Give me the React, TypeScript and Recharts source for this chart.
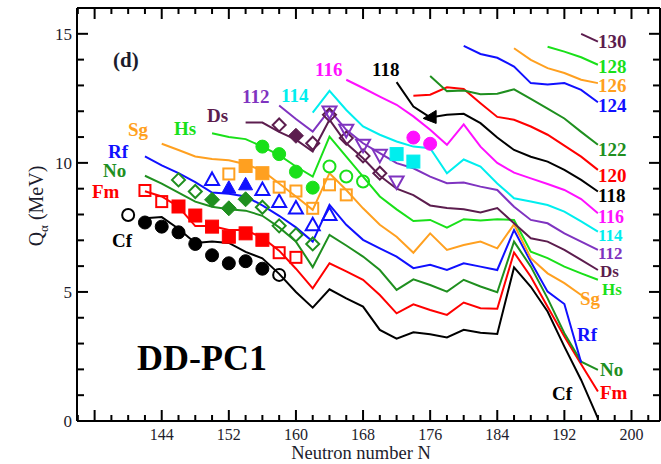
import React from 'react';
import { ComposedChart, Line, Scatter, XAxis, YAxis } from 'recharts';

const SERIF = '"Liberation Serif", "Times New Roman", serif';

// neutron numbers used by the DD-PC1 curves
const N_VALUES = [
  140, 142, 144, 146, 148, 150, 152, 154, 156, 158, 160, 162, 164, 166, 168,
  170, 172, 174, 176, 178, 180, 182, 184, 186, 188, 190, 192, 194, 196,
];

// Q_alpha (MeV) along each isotopic chain, starting at the given N
const CF_FROM = 142;
const CF = [7.85, 7.9, 7.45, 6.9, 6.95, 6.9, 6.55, 6.3, 5.7, 5.0, 4.39, 5.1, 4.75, 4.43, 3.53, 3.19, 3.44, 3.36, 3.24, 3.53, 3.42, 3.37, 5.95, 5.2, 4.24, 2.88, 1.59, 0.1];
const FM_FROM = 142;
const FM = [8.9, 8.7, 8.3, 7.55, 7.55, 7.4, 7.4, 7.1, 6.6, 5.9, 5.14, 6.11, 5.8, 5.47, 4.88, 4.17, 4.52, 4.3, 4.11, 4.59, 4.37, 4.35, 6.53, 5.59, 4.43, 3.27, 2.2, 1.14];
const NO_FROM = 142;
const NO = [9.5, 9.2, 8.85, 8.5, 8.3, 8.2, 8.15, 7.95, 7.5, 6.95, 5.96, 7.21, 6.8, 6.37, 5.85, 5.08, 5.49, 5.27, 5.01, 5.47, 5.21, 4.99, 6.95, 5.98, 4.75, 3.4, 2.3, 1.98];
const RF_FROM = 142;
const RF = [10.25, 9.9, 9.6, 9.25, 8.85, 8.8, 8.7, 8.35, 7.95, 7.5, 6.95, 8.37, 7.6, 7.02, 6.69, 6.37, 5.92, 6.05, 5.85, 6.11, 5.98, 5.85, 7.4, 6.17, 5.01, 4.53, 2.27];
const SG_FROM = 144;
const SG = [10.74, 10.5, 10.25, 10.15, 10.1, 9.95, 9.7, 9.2, 8.7, 8.18, 9.6, 8.95, 8.24, 7.6, 7.14, 6.52, 7.27, 6.63, 6.82, 6.95, 6.69, 7.62, 6.31, 5.72, 5.34, 4.88];
const HS_FROM = 150;
const HS = [11.15, 11.0, 10.92, 10.63, 10.3, 9.86, 9.47, 11.02, 10.24, 9.47, 8.7, 8.2, 7.75, 7.79, 7.49, 7.82, 7.77, 7.82, 7.79, 6.56, 6.31, 5.98, 5.72, 5.47];
const DS_FROM = 154;
const DS = [11.56, 11.56, 11.2, 10.9, 10.44, 11.67, 10.76, 10.18, 9.5, 9.0, 8.75, 8.35, 8.25, 8.2, 8.08, 8.25, 7.66, 7.08, 6.95, 6.63, 6.24, 5.85];
const Z112_FROM = 158;
const Z112 = [12.22, 11.7, 11.21, 12.05, 11.28, 10.76, 10.38, 9.99, 9.79, 9.47, 9.21, 9.24, 9.08, 8.95, 8.3, 7.79, 7.66, 7.27, 6.95, 6.63];
const Z114_FROM = 162;
const Z114 = [11.95, 12.79, 12.05, 11.41, 11.09, 10.83, 10.63, 10.57, 9.6, 10.13, 9.86, 9.2, 8.63, 8.5, 8.37, 8.11, 7.73, 7.34];
const Z116_FROM = 166;
const Z116 = [13.22, 12.9, 12.57, 12.25, 11.8, 11.28, 10.7, 11.49, 10.63, 10.0, 9.62, 9.4, 9.18, 8.95, 8.6, 8.05];
const Z118_FROM = 172;
const Z118 = [13.13, 12.18, 11.76, 11.86, 11.9, 11.54, 10.98, 10.5, 10.24, 10.05, 9.73, 9.34, 8.89];
const Z120_FROM = 174;
const Z120 = [12.6, 12.64, 12.93, 12.86, 12.31, 11.78, 11.67, 11.41, 11.09, 10.67, 10.24, 9.73];
const Z122_FROM = 176;
const Z122 = [13.37, 12.78, 12.8, 12.66, 12.68, 12.85, 12.48, 12.1, 11.72, 11.2, 10.7];
const Z124_FROM = 180;
const Z124 = [14.53, 14.22, 14.07, 13.73, 13.09, 13.04, 13.09, 12.83, 12.35];
const Z126_FROM = 186;
const Z126 = [14.44, 13.99, 13.67, 13.48, 13.22, 13.09];
const Z128_FROM = 190;
const Z128 = [14.5, 14.31, 14.09, 13.8];
const Z130_FROM = 194;
const Z130 = [15.0, 14.7];

// experimental values [N, Q]
const CF_EXP_OPEN = [[140, 7.98], [158, 5.66]];
const CF_EXP = [[142, 7.69], [144, 7.53], [146, 7.31], [148, 6.86], [150, 6.42], [152, 6.11], [154, 6.19], [156, 5.9]];
const FM_EXP_OPEN = [[142, 8.93], [144, 8.5], [158, 6.52], [160, 6.34]];
const FM_EXP = [[146, 8.31], [148, 7.96], [150, 7.53], [152, 7.14], [154, 7.27], [156, 7.02]];
const NO_EXP_OPEN = [[146, 9.34], [148, 8.89], [156, 8.28], [158, 7.56], [160, 7.21], [162, 6.86]];
const NO_EXP = [[150, 8.57], [152, 8.24], [154, 8.59]];
const RF_EXP_OPEN = [[150, 9.34], [156, 8.95], [158, 8.48], [160, 8.23], [162, 7.58], [164, 7.98]];
const RF_EXP = [[152, 9.02], [154, 9.15]];
const SG_EXP_OPEN = [[152, 9.57], [158, 9.06], [160, 8.91], [162, 8.24], [164, 9.15], [166, 8.76]];
const SG_EXP = [[154, 9.88], [156, 9.6]];
const HS_EXP = [[156, 10.63], [158, 10.34], [160, 9.66], [162, 9.04]];
const HS_EXP_OPEN = [[164, 9.86], [166, 9.47], [168, 9.28]];
const DS_EXP_OPEN = [[158, 11.47], [162, 10.76], [164, 11.86], [166, 10.96], [168, 10.27], [170, 9.6]];
const DS_EXP = [[160, 11.05]];
const Z112_EXP_OPEN = [[164, 11.99], [166, 11.28], [168, 10.7], [170, 10.31], [172, 9.28]];
const Z114_EXP = [[172, 10.34], [174, 10.05]];
const Z116_EXP = [[174, 10.98], [176, 10.74]];
const Z118_EXP = [[176, 11.8]];

// axis ticks
const X_TICKS = [134, 136, 138, 140, 142, 144, 146, 148, 150, 152, 154, 156, 158, 160, 162, 164, 166, 168, 170, 172, 174, 176, 178, 180, 182, 184, 186, 188, 190, 192, 194, 196, 198, 200, 202];
const X_MAJOR = [136, 144, 152, 160, 168, 176, 184, 192, 200];
const X_LABELS = [144, 152, 160, 168, 176, 184, 192, 200];
const Y_TICKS = [0, 1, 2, 3, 4, 5, 6, 7, 8, 9, 10, 11, 12, 13, 14, 15, 16];
const Y_LABELS = [0, 5, 10, 15];

const BLACK = '#000000';
const RED = '#ff0000';
const DKGREEN = '#1f8f1f';
const BLUE = '#1010ff';
const ORANGE = '#ffa020';
const GREEN = '#19e019';
const MAROON = '#5c1d4e';
const PURPLE = '#7f33c0';
const CYAN = '#00eeee';
const MAGENTA = '#ff10ff';
const INK = '#1c1c2c';

const toPoints = (from: number, q: number[]) => {
  const i0 = N_VALUES.indexOf(from);
  return q.map((v, i) => ({ n: N_VALUES[i0 + i], q: v }));
};
const pairs = (arr: number[][]) => arr.map(([n, q]) => ({ n, q }));

const LINES = [
  { key: 'cf', from: CF_FROM, q: CF, color: BLACK },
  { key: 'fm', from: FM_FROM, q: FM, color: RED },
  { key: 'no', from: NO_FROM, q: NO, color: DKGREEN },
  { key: 'rf', from: RF_FROM, q: RF, color: BLUE },
  { key: 'sg', from: SG_FROM, q: SG, color: ORANGE },
  { key: 'hs', from: HS_FROM, q: HS, color: GREEN },
  { key: 'ds', from: DS_FROM, q: DS, color: MAROON },
  { key: 'z112', from: Z112_FROM, q: Z112, color: PURPLE },
  { key: 'z114', from: Z114_FROM, q: Z114, color: CYAN },
  { key: 'z116', from: Z116_FROM, q: Z116, color: MAGENTA },
  { key: 'z118', from: Z118_FROM, q: Z118, color: BLACK },
  { key: 'z120', from: Z120_FROM, q: Z120, color: RED },
  { key: 'z122', from: Z122_FROM, q: Z122, color: DKGREEN },
  { key: 'z124', from: Z124_FROM, q: Z124, color: BLUE },
  { key: 'z126', from: Z126_FROM, q: Z126, color: ORANGE },
  { key: 'z128', from: Z128_FROM, q: Z128, color: GREEN },
  { key: 'z130', from: Z130_FROM, q: Z130, color: MAROON },
];

const MARKERS = [
  { key: 'cfo', pts: CF_EXP_OPEN, shape: 'circle', color: BLACK, filled: false },
  { key: 'cff', pts: CF_EXP, shape: 'circle', color: BLACK, filled: true },
  { key: 'fmo', pts: FM_EXP_OPEN, shape: 'square', color: RED, filled: false },
  { key: 'fmf', pts: FM_EXP, shape: 'square', color: RED, filled: true },
  { key: 'noo', pts: NO_EXP_OPEN, shape: 'diamond', color: DKGREEN, filled: false },
  { key: 'nof', pts: NO_EXP, shape: 'diamond', color: DKGREEN, filled: true },
  { key: 'rfo', pts: RF_EXP_OPEN, shape: 'triUp', color: BLUE, filled: false },
  { key: 'rff', pts: RF_EXP, shape: 'triUp', color: BLUE, filled: true },
  { key: 'sgo', pts: SG_EXP_OPEN, shape: 'square', color: ORANGE, filled: false },
  { key: 'sgf', pts: SG_EXP, shape: 'square', color: ORANGE, filled: true },
  { key: 'hsf', pts: HS_EXP, shape: 'circle', color: GREEN, filled: true },
  { key: 'hso', pts: HS_EXP_OPEN, shape: 'circle', color: GREEN, filled: false },
  { key: 'dso', pts: DS_EXP_OPEN, shape: 'diamond', color: MAROON, filled: false },
  { key: 'dsf', pts: DS_EXP, shape: 'diamond', color: MAROON, filled: true },
  { key: 'z112o', pts: Z112_EXP_OPEN, shape: 'triDown', color: PURPLE, filled: false },
  { key: 'z114f', pts: Z114_EXP, shape: 'square', color: CYAN, filled: true },
  { key: 'z116f', pts: Z116_EXP, shape: 'circle', color: MAGENTA, filled: true },
  { key: 'z118f', pts: Z118_EXP, shape: 'triLeft', color: BLACK, filled: true },
];

// element labels (pixel positions, text baseline, font size)
const LABELS = [
  { t: 'Cf', x: 112, y: 247, c: BLACK, s: 19 },
  { t: 'Fm', x: 92, y: 198, c: RED, s: 19 },
  { t: 'No', x: 103, y: 177, c: DKGREEN, s: 19 },
  { t: 'Rf', x: 108, y: 158, c: BLUE, s: 19 },
  { t: 'Sg', x: 128, y: 136, c: ORANGE, s: 19 },
  { t: 'Hs', x: 174, y: 135, c: GREEN, s: 19 },
  { t: 'Ds', x: 207, y: 122, c: MAROON, s: 19 },
  { t: '112', x: 242, y: 103, c: PURPLE, s: 19 },
  { t: '114', x: 281, y: 102, c: CYAN, s: 19 },
  { t: '116', x: 315, y: 76, c: MAGENTA, s: 19 },
  { t: '118', x: 372, y: 76, c: BLACK, s: 19 },
  { t: '130', x: 598, y: 48, c: MAROON, s: 19 },
  { t: '128', x: 598, y: 73, c: GREEN, s: 19 },
  { t: '126', x: 598, y: 92, c: ORANGE, s: 19 },
  { t: '124', x: 598, y: 112, c: BLUE, s: 19 },
  { t: '122', x: 598, y: 156, c: DKGREEN, s: 19 },
  { t: '120', x: 598, y: 182, c: RED, s: 19 },
  { t: '118', x: 598, y: 202, c: BLACK, s: 19 },
  { t: '116', x: 598, y: 223, c: MAGENTA, s: 18 },
  { t: '114', x: 598, y: 241, c: CYAN, s: 17 },
  { t: '112', x: 598, y: 259, c: PURPLE, s: 17 },
  { t: 'Ds', x: 600, y: 277, c: MAROON, s: 17 },
  { t: 'Hs', x: 602, y: 295, c: GREEN, s: 17 },
  { t: 'Sg', x: 580, y: 305, c: ORANGE, s: 19 },
  { t: 'Rf', x: 577, y: 341, c: BLUE, s: 19 },
  { t: 'No', x: 600, y: 376, c: DKGREEN, s: 19 },
  { t: 'Fm', x: 600, y: 399, c: RED, s: 19 },
  { t: 'Cf', x: 552, y: 400, c: BLACK, s: 19 },
];

const makeShape = (kind: string, color: string, filled: boolean) => (p: any) => {
  const { cx, cy } = p;
  const fill = filled ? color : 'none';
  const common = { fill, stroke: color, strokeWidth: filled ? 1 : 2 };
  if (kind === 'circle') return <circle cx={cx} cy={cy} r={filled ? 6.5 : 6} {...common} />;
  if (kind === 'square') {
    const s = filled ? 6.5 : 5.5;
    return <rect x={cx - s} y={cy - s} width={2 * s} height={2 * s} {...common} />;
  }
  if (kind === 'diamond') {
    const s = filled ? 7.5 : 6.5;
    return <polygon points={`${cx},${cy - s} ${cx + s},${cy} ${cx},${cy + s} ${cx - s},${cy}`} {...common} />;
  }
  if (kind === 'triUp')
    return <polygon points={`${cx},${cy - 7.5} ${cx + 7},${cy + 5} ${cx - 7},${cy + 5}`} {...common} />;
  if (kind === 'triDown')
    return <polygon points={`${cx},${cy + 7.5} ${cx + 7},${cy - 5} ${cx - 7},${cy - 5}`} {...common} />;
  return <polygon points={`${cx - 7},${cy + 2} ${cx + 6},${cy - 6} ${cx + 6},${cy + 7}`} {...common} />;
};

const BottomTick = (p: any) => {
  const v = p.payload.value;
  const len = X_MAJOR.includes(v) ? 11 : 6;
  return (
    <g>
      <line x1={p.x} x2={p.x} y1={p.y} y2={p.y - len} stroke="#000" strokeWidth={2} />
      {X_LABELS.includes(v) && (
        <text x={p.x} y={p.y + 19} textAnchor="middle" fontSize={16} fontFamily={SERIF} fill={INK}>
          {v}
        </text>
      )}
    </g>
  );
};

const TopTick = (p: any) => {
  const v = p.payload.value;
  const len = X_MAJOR.includes(v) ? 11 : 6;
  return <line x1={p.x} x2={p.x} y1={p.y} y2={p.y + len} stroke="#000" strokeWidth={2} />;
};

const LeftTick = (p: any) => {
  const v = p.payload.value;
  const len = Y_LABELS.includes(v) ? 11 : 7;
  return (
    <g>
      <line x1={p.x} x2={p.x + len} y1={p.y} y2={p.y} stroke="#000" strokeWidth={2} />
      {Y_LABELS.includes(v) && (
        <text x={p.x - 5} y={p.y + 6} textAnchor="end" fontSize={17} fontFamily={SERIF} fill={INK}>
          {v}
        </text>
      )}
    </g>
  );
};

const RightTick = (p: any) => {
  const v = p.payload.value;
  const len = Y_LABELS.includes(v) ? 11 : 7;
  return <line x1={p.x} x2={p.x - len} y1={p.y} y2={p.y} stroke="#000" strokeWidth={2} />;
};

const AXIS_LINE = { stroke: '#000', strokeWidth: 2 };
const X_DOMAIN = [133.9, 203.4];
const Y_DOMAIN = [0, 16];

export default function App() {
  return (
    <div style={{ position: 'absolute', left: 0, top: 0, width: 661, height: 464, background: '#fff' }}>
      <ComposedChart width={661} height={464} margin={{ top: 7, right: 0, bottom: 42, left: 76 }}>
        <XAxis
          dataKey="n"
          type="number"
          domain={X_DOMAIN}
          allowDataOverflow
          ticks={X_TICKS}
          interval={0}
          height={1}
          tickSize={0}
          tickMargin={0}
          tickLine={false}
          axisLine={AXIS_LINE}
          tick={BottomTick}
        />
        <XAxis
          xAxisId="top"
          orientation="top"
          dataKey="n"
          type="number"
          domain={X_DOMAIN}
          allowDataOverflow
          ticks={X_TICKS}
          interval={0}
          height={1}
          tickSize={0}
          tickMargin={0}
          tickLine={false}
          axisLine={AXIS_LINE}
          tick={TopTick}
        />
        <YAxis
          type="number"
          domain={Y_DOMAIN}
          allowDataOverflow
          ticks={Y_TICKS}
          interval={0}
          width={1}
          tickSize={0}
          tickMargin={0}
          tickLine={false}
          axisLine={AXIS_LINE}
          tick={LeftTick}
        />
        <YAxis
          yAxisId="right"
          orientation="right"
          type="number"
          domain={Y_DOMAIN}
          allowDataOverflow
          ticks={Y_TICKS}
          interval={0}
          width={1}
          tickSize={0}
          tickMargin={0}
          tickLine={false}
          axisLine={AXIS_LINE}
          tick={RightTick}
        />
        {LINES.map((l) => (
          <Line
            key={l.key}
            data={toPoints(l.from, l.q)}
            dataKey="q"
            type="linear"
            stroke={l.color}
            strokeWidth={2}
            dot={false}
            activeDot={false}
            isAnimationActive={false}
          />
        ))}
        {MARKERS.map((m) => (
          <Scatter
            key={m.key}
            data={pairs(m.pts)}
            dataKey="q"
            shape={makeShape(m.shape, m.color, m.filled)}
            isAnimationActive={false}
          />
        ))}
      </ComposedChart>
      <svg
        width={661}
        height={464}
        style={{ position: 'absolute', left: 0, top: 0, pointerEvents: 'none' }}
        fontFamily={SERIF}
      >
        <text x={113} y={67} fontSize={21} fontWeight="bold" fill={INK}>(d)</text>
        {LABELS.map((l, i) => (
          <text key={i} x={l.x} y={l.y} fontSize={l.s} fontWeight="bold" fill={l.c}>
            {l.t}
          </text>
        ))}
        <text x={137} y={370} fontSize={36} fontWeight="bold" fill="#000">DD-PC1</text>
        <text x={361} y={459} fontSize={18.5} textAnchor="middle" fill={INK}>Neutron number N</text>
        <text transform="translate(43, 206) rotate(-90)" fontSize={20} textAnchor="middle" fill={INK}>
          Q<tspan fontSize={13} dy={5}>α</tspan>
          <tspan dy={-5}> (MeV)</tspan>
        </text>
      </svg>
    </div>
  );
}
